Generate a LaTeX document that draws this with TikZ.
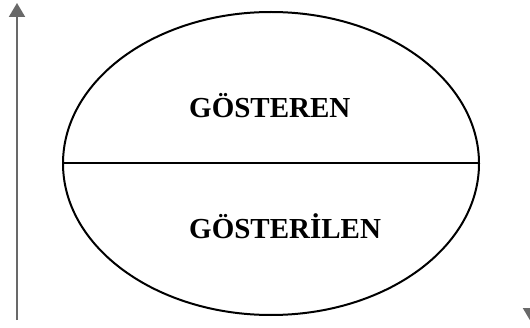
\documentclass[tikz,border=0pt]{standalone}
\usepackage{fontspec}
\setmainfont{Liberation Serif}
\usetikzlibrary{arrows.meta,shapes.geometric}
\definecolor{arrowgray}{RGB}{105,105,105}
\tikzset{
  axisarrow/.style={draw=arrowgray, line width=2pt, -{Triangle[width=16pt,length=14pt]}},
  outline/.style={line width=2pt},
  label/.style={anchor=base west, inner sep=0pt, font=\fontsize{29}{33}\selectfont\bfseries},
}
\begin{document}
\begin{tikzpicture}[x=1pt,y=1pt]
\useasboundingbox (0,0) rectangle (530,327);
\coordinate (lb) at (17,7);
\coordinate (lt) at (17,324);
\coordinate (rt) at (531,330);
\coordinate (rb) at (531,5);
\draw[axisarrow] (lb) -- (lt);
\draw[axisarrow] (rt) -- (rb);
\node[draw, outline, ellipse, minimum width=416pt, minimum height=303pt, inner sep=0pt] (e) at (271,163.5) {};
\draw[outline] (e.west) -- (e.east);
\node[label] (top) at (189,209) {GÖSTEREN};
\node[label] (bot) at (189,89) {GÖSTERİLEN};
\end{tikzpicture}
\end{document}
